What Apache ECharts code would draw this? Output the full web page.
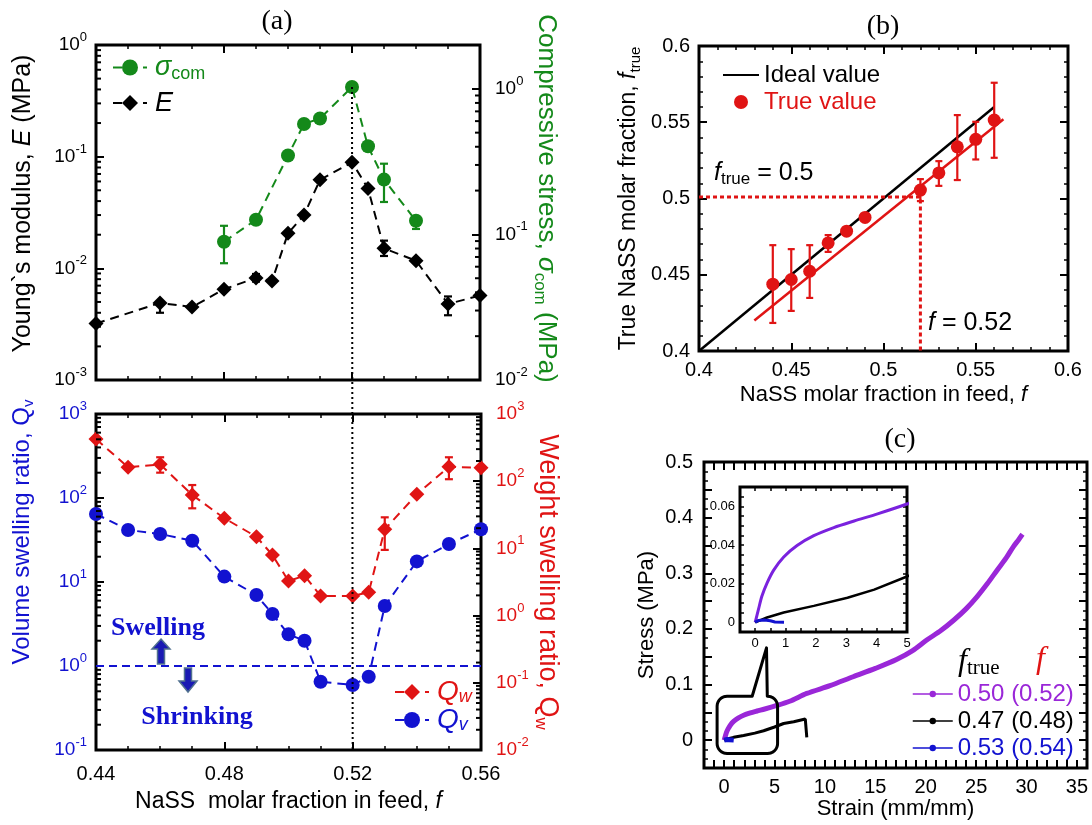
<!DOCTYPE html>
<html>
<head>
<meta charset="utf-8">
<script src="https://cdn.jsdelivr.net/npm/echarts@6/dist/echarts.min.js"></script>
<style>
  html, body { margin: 0; padding: 0; background: #fff; }
  #chart { width: 1092px; height: 825px; }
</style>
</head>
<body>
<div id="chart"></div>
<script>
// ---- (a) upper: Young's modulus E and compressive stress vs. feed fraction
const fE = [0.44, 0.46, 0.47, 0.48, 0.49, 0.495, 0.50, 0.505, 0.51, 0.52, 0.525, 0.53, 0.54, 0.55, 0.56]
const modulusE = [0.0032, 0.0049, 0.0045, 0.0065, 0.0082, 0.0077, 0.0206, 0.030, 0.062, 0.089, 0.052, 0.0151, 0.0117, 0.0048, 0.0057]
const modulusErr = [[0.46, 0.0040, 0.0050], [0.49, 0.0076, 0.0089], [0.53, 0.0129, 0.0177], [0.55, 0.0038, 0.0056]]
const fSigma = [0.48, 0.49, 0.50, 0.505, 0.51, 0.52, 0.525, 0.53, 0.54]
const sigmaCom = [0.089, 0.126, 0.348, 0.574, 0.625, 1.03, 0.403, 0.238, 0.124]
const sigmaErr = [[0.48, 0.0634, 0.1146], [0.53, 0.167, 0.306], [0.54, 0.109, 0.133]]

// ---- (a) lower: swelling ratios
const fQ = [0.44, 0.45, 0.46, 0.47, 0.48, 0.49, 0.495, 0.50, 0.505, 0.51, 0.52, 0.525, 0.53, 0.54, 0.55, 0.56]
const qV = [64.5, 41.6, 37.3, 31, 11.6, 7.0, 4.16, 2.38, 2.0, 0.65, 0.594, 0.746, 5.18, 17.6, 28.3, 42.4]
const qW = [425, 161, 178, 62.3, 28.1, 14.9, 7.97, 3.27, 3.93, 1.96, 1.96, 2.22, 19.2, 63.8, 164, 159]
const qWErr = [[0.46, 134, 227], [0.47, 39.5, 87.7], [0.53, 9.5, 29], [0.55, 107, 227]]
const qUnity = 1
const fOptimum = 0.52

// ---- (b) true vs feed fraction
const fFeed = [0.44, 0.45, 0.46, 0.47, 0.48, 0.49, 0.52, 0.53, 0.54, 0.55, 0.56]
const fTrue = [0.4438, 0.4469, 0.4523, 0.4709, 0.4786, 0.4876, 0.5055, 0.5168, 0.5339, 0.5388, 0.5514]
const fTrueLo = [0.4184, 0.4263, 0.4348, 0.465, 0.4786, 0.4876, 0.4983, 0.5083, 0.5121, 0.5256, 0.5267]
const fTrueHi = [0.4694, 0.4668, 0.4694, 0.476, 0.4786, 0.4876, 0.5127, 0.5245, 0.5547, 0.5503, 0.5759]
const idealX = [0.4, 0.56]
const fitX = [0.43, 0.565]
const fitY = [0.420, 0.552]
const guideY = 0.501

// ---- (c) stress-strain curves
const strainP = [0, 0.11, 0.22, 0.39, 0.61, 0.94, 1.38, 1.93, 2.59, 3.26, 4.03, 5.0, 6.5, 8.2, 10.5, 12.8, 15, 17.1, 18.7, 20.1, 21.5, 22.8, 24, 25.1, 26.1, 27.1, 28, 28.7, 29.2, 29.6]
const stressP = [0, 0.0068, 0.0135, 0.0203, 0.027, 0.0338, 0.0397, 0.0448, 0.049, 0.0524, 0.0561, 0.0612, 0.070, 0.084, 0.098, 0.114, 0.129, 0.145, 0.161, 0.180, 0.197, 0.216, 0.236, 0.258, 0.281, 0.306, 0.328, 0.348, 0.360, 0.370]
const strainK = [0, 0.39, 0.94, 1.93, 3.04, 3.92, 5.0, 5.9, 6.9, 8.05, 8.2, 8.2]
const stressK = [0, 0.0025, 0.0051, 0.0085, 0.0127, 0.0169, 0.0237, 0.030, 0.033, 0.038, 0.037, 0.005]
const strainB = [0, 0.1, 0.3, 0.5, 0.65, 0.95]
const stressB = [0, 0.001, 0.0012, 0.0008, 0.0002, 0.0001]
const curveNames = ['0.50 (0.52)', '0.47 (0.48)', '0.53 (0.54)']

const GREEN = '#14891a', RED = '#e01414', BLUE = '#1212d0', PURPLE = '#9a27d8', VIOLET = '#7a22de'
const SANS = 'Liberation Sans, Arial, sans-serif'
const SERIF = 'Liberation Serif, Times New Roman, serif'

const zip = (xs, ys) => xs.map((x, i) => [x, ys[i]])

const tick = { show: true, inside: true, length: 8, lineStyle: { color: '#000', width: 2 } }
const smallTick = { show: true, inside: true, length: 4, lineStyle: { color: '#000', width: 1.5 } }
const minor = n => ({ show: true, splitNumber: n, length: 4, lineStyle: { color: '#000', width: 1.5 } })
const noLine = { show: false, onZero: false }

const supRich = color => ({
  b: { fontSize: 19, lineHeight: 28, color: color, fontFamily: SANS },
  s: { fontSize: 13, lineHeight: 14, verticalAlign: 'top', color: color, fontFamily: SANS }
})
const logFmt = v => {
  const l = Math.log10(v), e = Math.round(l)
  return Math.abs(l - e) > 1e-6 ? '' : '{b|10}{s|' + e + '}'
}

function valAxis(o) {
  return Object.assign({
    type: 'value', axisLine: noLine, splitLine: { show: false },
    axisTick: tick, axisLabel: { show: false }
  }, o)
}
function logAxis(o) {
  return Object.assign({
    type: 'log', logBase: 10, axisLine: noLine, splitLine: { show: false },
    axisTick: tick, axisLabel: { show: false }
  }, o)
}
function logMinors(min, max) {
  const out = []
  for (let e = Math.floor(Math.log10(min)); e < Math.ceil(Math.log10(max)); e++) {
    for (let k = 2; k <= 9; k++) {
      const v = k * Math.pow(10, e)
      if (v > min * 1.0001 && v < max * 0.9999) out.push(v)
    }
  }
  return out
}
function minorTickSeries(xIdx, yIdx, min, max, xAt, side) {
  return {
    type: 'custom', xAxisIndex: xIdx, yAxisIndex: yIdx, silent: true, z: 6, clip: false,
    data: logMinors(min, max).map(v => [xAt, v]),
    renderItem: (params, api) => {
      const cs = params.coordSys
      const y = api.coord([api.value(0), api.value(1)])[1]
      const x0 = side === 'left' ? cs.x : cs.x + cs.width
      const x1 = side === 'left' ? x0 + 5 : x0 - 5
      return { type: 'line', shape: { x1: x0, y1: y, x2: x1, y2: y }, style: { stroke: '#000', lineWidth: 2 } }
    }
  }
}
function errSeries(xIdx, yIdx, data, color, cap) {
  return {
    type: 'custom', xAxisIndex: xIdx, yAxisIndex: yIdx, silent: true, z: 4, clip: false,
    data: data, encode: { x: 0, y: [1, 2] },
    renderItem: (params, api) => {
      const lo = api.coord([api.value(0), api.value(1)])
      const hi = api.coord([api.value(0), api.value(2)])
      const st = { stroke: color, lineWidth: 2.2 }
      return {
        type: 'group', children: [
          { type: 'line', shape: { x1: lo[0], y1: lo[1], x2: hi[0], y2: hi[1] }, style: st },
          { type: 'line', shape: { x1: lo[0] - cap, y1: lo[1], x2: lo[0] + cap, y2: lo[1] }, style: st },
          { type: 'line', shape: { x1: hi[0] - cap, y1: hi[1], x2: hi[0] + cap, y2: hi[1] }, style: st }
        ]
      }
    }
  }
}
const dashed = (color, w) => ({ color: color, width: w || 2, type: [9, 6] })

const grids = [
  { left: 96, top: 45, width: 384, height: 335 },
  { left: 96, top: 414, width: 385, height: 336 },
  { left: 699, top: 46, width: 369, height: 305 },
  { left: 704, top: 462, width: 383, height: 306 },
  { left: 740, top: 487, width: 167, height: 145, backgroundColor: '#fff' }
].map(g => Object.assign({ show: true, borderColor: '#000', borderWidth: 3, backgroundColor: 'transparent', outerBoundsMode: 'none' }, g))

const xAxes = [
  valAxis({ gridIndex: 0, min: 0.44, max: 0.56, interval: 0.04, minorTick: minor(4) }),
  valAxis({ gridIndex: 0, position: 'top', min: 0.44, max: 0.56, interval: 0.04, minorTick: minor(4) }),
  valAxis({
    gridIndex: 1, min: 0.44, max: 0.56, interval: 0.04, minorTick: minor(4),
    axisLabel: { show: true, fontSize: 20, color: '#000', margin: 14, fontFamily: SANS },
    name: 'NaSS  molar fraction in feed, {i|f}', nameLocation: 'middle', nameGap: 40,
    nameTextStyle: { fontSize: 23, color: '#000', fontFamily: SANS, rich: { i: { fontSize: 23, fontStyle: 'italic', fontFamily: SANS } } }
  }),
  valAxis({ gridIndex: 1, position: 'top', min: 0.44, max: 0.56, interval: 0.04, minorTick: minor(4) }),
  valAxis({
    gridIndex: 2, min: 0.4, max: 0.6, interval: 0.05, minorTick: minor(5),
    axisLabel: { show: true, fontSize: 20, color: '#000', margin: 9, fontFamily: SANS },
    name: 'NaSS molar fraction in feed, {i|f}', nameLocation: 'middle', nameGap: 33,
    nameTextStyle: { fontSize: 22, color: '#000', fontFamily: SANS, rich: { i: { fontSize: 22, fontStyle: 'italic', fontFamily: SANS } } }
  }),
  valAxis({ gridIndex: 2, position: 'top', min: 0.4, max: 0.6, interval: 0.05, minorTick: minor(5) }),
  valAxis({
    gridIndex: 3, min: -2, max: 36, interval: 1,
    axisLabel: { show: true, fontSize: 20, color: '#000', margin: 9, fontFamily: SANS, formatter: v => (Math.round(v) % 5 === 0 ? String(Math.round(v)) : '') },
    name: 'Strain (mm/mm)', nameLocation: 'middle', nameGap: 30,
    nameTextStyle: { fontSize: 22, color: '#000', fontFamily: SANS }
  }),
  valAxis({ gridIndex: 3, position: 'top', min: -2, max: 36, interval: 1 }),
  valAxis({
    gridIndex: 4, min: -0.5, max: 5, interval: 0.5, axisTick: smallTick,
    axisLabel: { show: true, fontSize: 13, color: '#000', margin: 5, fontFamily: SANS, formatter: v => (Math.abs(v - Math.round(v)) < 1e-6 ? String(Math.round(v)) : '') }
  }),
  valAxis({ gridIndex: 4, position: 'top', min: -0.5, max: 5, interval: 0.5, axisTick: smallTick })
]

const yAxes = [
  logAxis({
    gridIndex: 0, position: 'left', min: 0.001, max: 1,
    axisLabel: { show: true, formatter: logFmt, margin: 9, rich: supRich('#000') },
    name: 'Young`s modulus, {i|E} (MPa)', nameLocation: 'middle', nameRotate: 90, nameGap: 60,
    nameTextStyle: { fontSize: 25, color: '#000', fontFamily: SANS, padding: [0, 0, 0, 18], rich: { i: { fontSize: 25, fontStyle: 'italic', fontFamily: SANS } } }
  }),
  logAxis({
    gridIndex: 0, position: 'right', min: 0.01, max: 2,
    axisLabel: { show: true, formatter: logFmt, margin: 15, showMaxLabel: false, rich: supRich('#000') },
    name: 'Compressive stress, {g|σ}{s|com} (MPa)', nameLocation: 'middle', nameRotate: -90, nameGap: 44,
    nameTextStyle: {
      fontSize: 26, color: GREEN, fontFamily: SANS, lineHeight: 30, padding: [0, 28, 0, 0],
      rich: { g: { fontSize: 26, fontStyle: 'italic', color: GREEN, lineHeight: 30 }, s: { fontSize: 17, color: GREEN, verticalAlign: 'bottom', lineHeight: 12 } }
    }
  }),
  logAxis({
    gridIndex: 1, position: 'left', min: 0.1, max: 1000,
    axisLabel: { show: true, formatter: logFmt, margin: 9, rich: supRich(BLUE) },
    name: 'Volume swelling ratio, Q{s|v}', nameLocation: 'middle', nameRotate: 90, nameGap: 60,
    nameTextStyle: { fontSize: 24, color: BLUE, fontFamily: SANS, lineHeight: 28, padding: [0, 0, 0, 100], rich: { s: { fontSize: 15, color: BLUE, verticalAlign: 'bottom', lineHeight: 12 } } }
  }),
  logAxis({
    gridIndex: 1, position: 'right', min: 0.01, max: 1000,
    axisLabel: { show: true, formatter: logFmt, margin: 15, rich: supRich(RED) },
    name: 'Weight swelling ratio, Q{s|w}', nameLocation: 'middle', nameRotate: -90, nameGap: 44,
    nameTextStyle: { fontSize: 27, color: RED, fontFamily: SANS, lineHeight: 30, rich: { s: { fontSize: 17, color: RED, verticalAlign: 'bottom', lineHeight: 12 } } }
  }),
  valAxis({
    gridIndex: 2, min: 0.4, max: 0.6, interval: 0.05, minorTick: minor(5),
    axisLabel: { show: true, fontSize: 20, color: '#000', margin: 9, fontFamily: SANS },
    name: 'True NaSS molar fraction, {i|f}{s|true}', nameLocation: 'middle', nameRotate: 90, nameGap: 56,
    nameTextStyle: { fontSize: 23, color: '#000', fontFamily: SANS, lineHeight: 28, rich: { i: { fontSize: 23, fontStyle: 'italic', lineHeight: 28 }, s: { fontSize: 15, verticalAlign: 'bottom', lineHeight: 12 } } }
  }),
  valAxis({ gridIndex: 2, position: 'right', min: 0.4, max: 0.6, interval: 0.05, minorTick: minor(5) }),
  valAxis({
    gridIndex: 3, min: -0.05, max: 0.5, interval: 0.05, minorTick: minor(3),
    axisLabel: { show: true, fontSize: 20, color: '#000', margin: 11, fontFamily: SANS, formatter: v => (Math.abs(v * 10 - Math.round(v * 10)) < 1e-6 ? String(Math.round(v * 10) / 10) : '') },
    name: 'Stress (MPa)', nameLocation: 'middle', nameRotate: 90, nameGap: 46,
    nameTextStyle: { fontSize: 22, color: '#000', fontFamily: SANS }
  }),
  valAxis({ gridIndex: 3, position: 'right', min: -0.05, max: 0.5, interval: 0.05, minorTick: minor(3) }),
  valAxis({
    gridIndex: 4, min: -0.005, max: 0.07, interval: 0.005, axisTick: smallTick,
    axisLabel: { show: true, fontSize: 13, color: '#000', margin: 5, fontFamily: SANS, formatter: v => (Math.abs(v * 50 - Math.round(v * 50)) < 1e-6 ? (Math.round(v * 100) / 100).toString() : '') }
  }),
  valAxis({ gridIndex: 4, position: 'right', min: -0.005, max: 0.07, interval: 0.005, axisTick: smallTick })
]

const clear = 'rgba(0,0,0,0)'
const series = [
  // (a) upper
  { name: 'E', type: 'line', xAxisIndex: 0, yAxisIndex: 0, data: zip(fE, modulusE), symbol: 'diamond', symbolSize: 15, clip: false, z: 3,
    itemStyle: { color: '#000' }, lineStyle: dashed('#000') },
  errSeries(0, 0, modulusErr, '#000', 4),
  { name: 'sigma', type: 'line', xAxisIndex: 0, yAxisIndex: 1, data: zip(fSigma, sigmaCom), symbol: 'circle', symbolSize: 14, clip: false, z: 3,
    itemStyle: { color: GREEN }, lineStyle: dashed(GREEN) },
  errSeries(0, 1, sigmaErr, GREEN, 4),
  minorTickSeries(0, 0, 0.001, 1, 0.5, 'left'),
  minorTickSeries(0, 1, 0.01, 2, 0.5, 'right'),
  // (a) lower
  { name: 'unity', type: 'line', xAxisIndex: 2, yAxisIndex: 2, data: [[0.44, qUnity], [0.56, qUnity]], symbol: 'none', z: 2,
    lineStyle: { color: BLUE, width: 2, type: [8, 5] } },
  { name: 'Qw', type: 'line', xAxisIndex: 2, yAxisIndex: 3, data: zip(fQ, qW), symbol: 'diamond', symbolSize: 15, clip: false, z: 3,
    itemStyle: { color: RED }, lineStyle: dashed(RED) },
  errSeries(2, 3, qWErr, RED, 4),
  { name: 'Qv', type: 'line', xAxisIndex: 2, yAxisIndex: 2, data: zip(fQ, qV), symbol: 'circle', symbolSize: 14, clip: false, z: 3,
    itemStyle: { color: BLUE }, lineStyle: dashed(BLUE) },
  minorTickSeries(2, 2, 0.1, 1000, 0.5, 'left'),
  minorTickSeries(2, 3, 0.01, 1000, 0.5, 'right'),
  // (b)
  { name: 'Ideal value', type: 'line', xAxisIndex: 4, yAxisIndex: 4, data: zip(idealX, idealX), symbol: 'circle', symbolSize: 2, showSymbol: false, z: 2,
    itemStyle: { color: clear }, lineStyle: { color: '#000', width: 2.5 } },
  { name: 'fit', type: 'line', xAxisIndex: 4, yAxisIndex: 4, data: zip(fitX, fitY), symbol: 'none', z: 2,
    lineStyle: { color: RED, width: 2.5 } },
  { name: 'guide', type: 'line', xAxisIndex: 4, yAxisIndex: 4, data: [[0.4, guideY], [fOptimum, guideY], [fOptimum, 0.4]], symbol: 'none', z: 2,
    lineStyle: { color: RED, width: 3, type: [4, 3] } },
  errSeries(4, 4, fFeed.map((f, i) => [f, fTrueLo[i], fTrueHi[i]]).filter(d => d[2] > d[1]), RED, 3.5),
  { name: 'True value', type: 'scatter', xAxisIndex: 4, yAxisIndex: 4, data: zip(fFeed, fTrue), symbol: 'circle', symbolSize: 13, z: 5,
    itemStyle: { color: RED, opacity: 1 } },
  // (c) main
  { name: curveNames[0], type: 'line', xAxisIndex: 6, yAxisIndex: 6, data: zip(strainP, stressP), symbol: 'circle', symbolSize: 5, showSymbol: false, smooth: 0.3, z: 3,
    itemStyle: { color: PURPLE }, lineStyle: { color: PURPLE, width: 5 } },
  { name: curveNames[1], type: 'line', xAxisIndex: 6, yAxisIndex: 6, data: zip(strainK, stressK), symbol: 'circle', symbolSize: 5, showSymbol: false, z: 3,
    itemStyle: { color: '#000' }, lineStyle: { color: '#000', width: 3 } },
  { name: curveNames[2], type: 'line', xAxisIndex: 6, yAxisIndex: 6, data: zip(strainB, stressB), symbol: 'circle', symbolSize: 5, showSymbol: false, z: 3,
    itemStyle: { color: BLUE }, lineStyle: { color: BLUE, width: 5 } },
  // (c) inset
  { name: curveNames[0], type: 'line', xAxisIndex: 8, yAxisIndex: 8, data: zip(strainP, stressP), symbol: 'none', smooth: 0.3, z: 3,
    lineStyle: { color: VIOLET, width: 3 } },
  { name: curveNames[1], type: 'line', xAxisIndex: 8, yAxisIndex: 8, data: zip(strainK, stressK), symbol: 'none', z: 3,
    lineStyle: { color: '#000', width: 2.5 } },
  { name: curveNames[2], type: 'line', xAxisIndex: 8, yAxisIndex: 8, data: zip(strainB, stressB), symbol: 'none', z: 3,
    lineStyle: { color: BLUE, width: 3 } }
]

const legends = [
  { left: 112, top: 54, orient: 'vertical', itemWidth: 34, itemHeight: 20, itemGap: 6, selectedMode: false, padding: 0,
    data: ['sigma', 'E'],
    formatter: n => (n === 'sigma' ? '{g|σ}{gs|com}' : '{e|E}'),
    textStyle: { rich: {
      g: { fontSize: 27, fontStyle: 'italic', color: GREEN, lineHeight: 32, fontFamily: SANS, padding: [0, 0, 0, 3] },
      gs: { fontSize: 18, color: GREEN, verticalAlign: 'bottom', lineHeight: 12, fontFamily: SANS },
      e: { fontSize: 27, fontStyle: 'italic', color: '#000', lineHeight: 32, fontFamily: SANS, padding: [0, 0, 0, 3] }
    } } },
  { left: 394, top: 678, orient: 'vertical', itemWidth: 34, itemHeight: 20, itemGap: 0, selectedMode: false, padding: 0,
    data: ['Qw', 'Qv'],
    formatter: n => (n === 'Qw' ? '{q|Q}{qs|w}' : '{p|Q}{ps|v}'),
    textStyle: { rich: {
      q: { fontSize: 28, fontStyle: 'italic', color: RED, lineHeight: 28, fontFamily: SANS, padding: [0, 0, 0, 3] },
      qs: { fontSize: 18, fontStyle: 'italic', color: RED, verticalAlign: 'bottom', lineHeight: 4, fontFamily: SANS },
      p: { fontSize: 28, fontStyle: 'italic', color: BLUE, lineHeight: 28, fontFamily: SANS, padding: [0, 0, 0, 3] },
      ps: { fontSize: 18, fontStyle: 'italic', color: BLUE, verticalAlign: 'bottom', lineHeight: 4, fontFamily: SANS }
    } } },
  { left: 722, top: 63, orient: 'vertical', itemWidth: 36, itemHeight: 14, itemGap: 3, selectedMode: false, padding: 0,
    data: [{ name: 'Ideal value', textStyle: { color: '#000' } }, { name: 'True value', textStyle: { color: RED } }],
    textStyle: { fontSize: 24, lineHeight: 24, fontFamily: SANS } },
  { left: 912, top: 682, orient: 'vertical', itemWidth: 40, itemHeight: 8, itemGap: 3, selectedMode: false, padding: 0,
    lineStyle: { width: 1.5 },
    data: [{ name: curveNames[0], textStyle: { color: PURPLE } }, { name: curveNames[1], textStyle: { color: '#000' } }, { name: curveNames[2], textStyle: { color: BLUE } }],
    textStyle: { fontSize: 24, lineHeight: 24, fontFamily: SANS } }
]

const chart = echarts.init(document.getElementById('chart'))
chart.setOption({
  animation: false,
  backgroundColor: '#fff',
  textStyle: { fontFamily: SANS },
  grid: grids,
  xAxis: xAxes,
  yAxis: yAxes,
  legend: legends,
  series: series
})

// decorations placed through the chart's own scales
const sIdx = name => series.findIndex(s => s.name === name)
const pTop = chart.convertToPixel({ seriesIndex: sIdx('sigma') }, [fOptimum, sigmaCom[fSigma.indexOf(fOptimum)]])
const pBot = chart.convertToPixel({ seriesIndex: sIdx('Qv') }, [fOptimum, 0.1])
const c0 = chart.convertToPixel({ seriesIndex: sIdx(curveNames[0]) }, [-0.7, 0.079])
const c1 = chart.convertToPixel({ seriesIndex: sIdx(curveNames[0]) }, [5.3, -0.024])
const cTip = chart.convertToPixel({ seriesIndex: sIdx(curveNames[0]) }, [4.2, 0.166])

function calloutPoints(x0, y0, x1, y1, r, pl, tip, pr) {
  const pts = [[x0 + r, y0], [pl, y0], tip, [pr, y0]]
  const arc = (cx, cy, a0) => {
    for (let k = 0; k <= 8; k++) {
      const a = (a0 + k * 90 / 8) * Math.PI / 180
      pts.push([cx + r * Math.cos(a), cy + r * Math.sin(a)])
    }
  }
  arc(x1 - r, y0 + r, -90)
  arc(x1 - r, y1 - r, 0)
  arc(x0 + r, y1 - r, 90)
  arc(x0 + r, y0 + r, 180)
  return pts
}
const bw = c1[0] - c0[0]
const callout = calloutPoints(c0[0], c0[1], c1[0], c1[1], 10, c0[0] + bw * 0.58, cTip, c0[0] + bw * 0.83)

const arrowStyle = { fill: '#1a1ab4', stroke: '#50708f', lineWidth: 1.5 }
chart.setOption({
  graphic: [
    { type: 'text', x: 277, y: 22, style: { text: '(a)', font: '28px ' + SERIF, fill: '#000', align: 'center', verticalAlign: 'middle' } },
    { type: 'text', x: 883, y: 27, style: { text: '(b)', font: '28px ' + SERIF, fill: '#000', align: 'center', verticalAlign: 'middle' } },
    { type: 'text', x: 900, y: 440, style: { text: '(c)', font: '28px ' + SERIF, fill: '#000', align: 'center', verticalAlign: 'middle' } },
    { type: 'line', z: 100, shape: { x1: pTop[0], y1: pTop[1], x2: pBot[0], y2: pBot[1] }, style: { stroke: '#000', lineWidth: 2, lineDash: [2, 3] } },
    { type: 'text', x: 158, y: 628, z: 50, style: { text: 'Swelling', font: 'bold 26px ' + SERIF, fill: BLUE, align: 'center', verticalAlign: 'middle' } },
    { type: 'text', x: 197, y: 717, z: 50, style: { text: 'Shrinking', font: 'bold 26px ' + SERIF, fill: BLUE, align: 'center', verticalAlign: 'middle' } },
    { type: 'polygon', z: 50, shape: { points: [[161, 639], [170, 649], [164.5, 649], [164.5, 664], [157.5, 664], [157.5, 649], [152, 649]] }, style: arrowStyle },
    { type: 'polygon', z: 50, shape: { points: [[184.5, 668], [191.5, 668], [191.5, 681], [197, 681], [188, 692], [179, 681], [184.5, 681]] }, style: arrowStyle },
    { type: 'text', x: 714, y: 173, z: 50, style: {
      text: '{f|f}{t|true}{n| = 0.5}', verticalAlign: 'middle',
      rich: {
        f: { fontSize: 25, fontStyle: 'italic', fontFamily: SANS, lineHeight: 30, fill: '#000' },
        t: { fontSize: 17, fontFamily: SANS, verticalAlign: 'bottom', lineHeight: 10, fill: '#000' },
        n: { fontSize: 25, fontFamily: SANS, lineHeight: 30, fill: '#000' }
      } } },
    { type: 'text', x: 928, y: 323, z: 50, style: {
      text: '{f|f}{n| = 0.52}', verticalAlign: 'middle',
      rich: {
        f: { fontSize: 25, fontStyle: 'italic', fontFamily: SANS, lineHeight: 30, fill: '#000' },
        n: { fontSize: 25, fontFamily: SANS, lineHeight: 30, fill: '#000' }
      } } },
    { type: 'text', x: 958, y: 662, z: 50, style: {
      text: '{f|f}{t|true}', verticalAlign: 'middle',
      rich: {
        f: { fontSize: 32, fontStyle: 'italic', fontFamily: SERIF, lineHeight: 34, fill: '#000' },
        t: { fontSize: 21, fontFamily: SERIF, verticalAlign: 'bottom', lineHeight: 18, fill: '#000' }
      } } },
    { type: 'text', x: 1036, y: 660, z: 50, style: { text: 'f', font: 'italic 32px ' + SERIF, fill: RED, verticalAlign: 'middle' } },
    { type: 'polygon', z: 60, shape: { points: callout }, style: { fill: 'none', stroke: '#000', lineWidth: 3, lineJoin: 'round' } }
  ]
})
</script>
</body>
</html>
